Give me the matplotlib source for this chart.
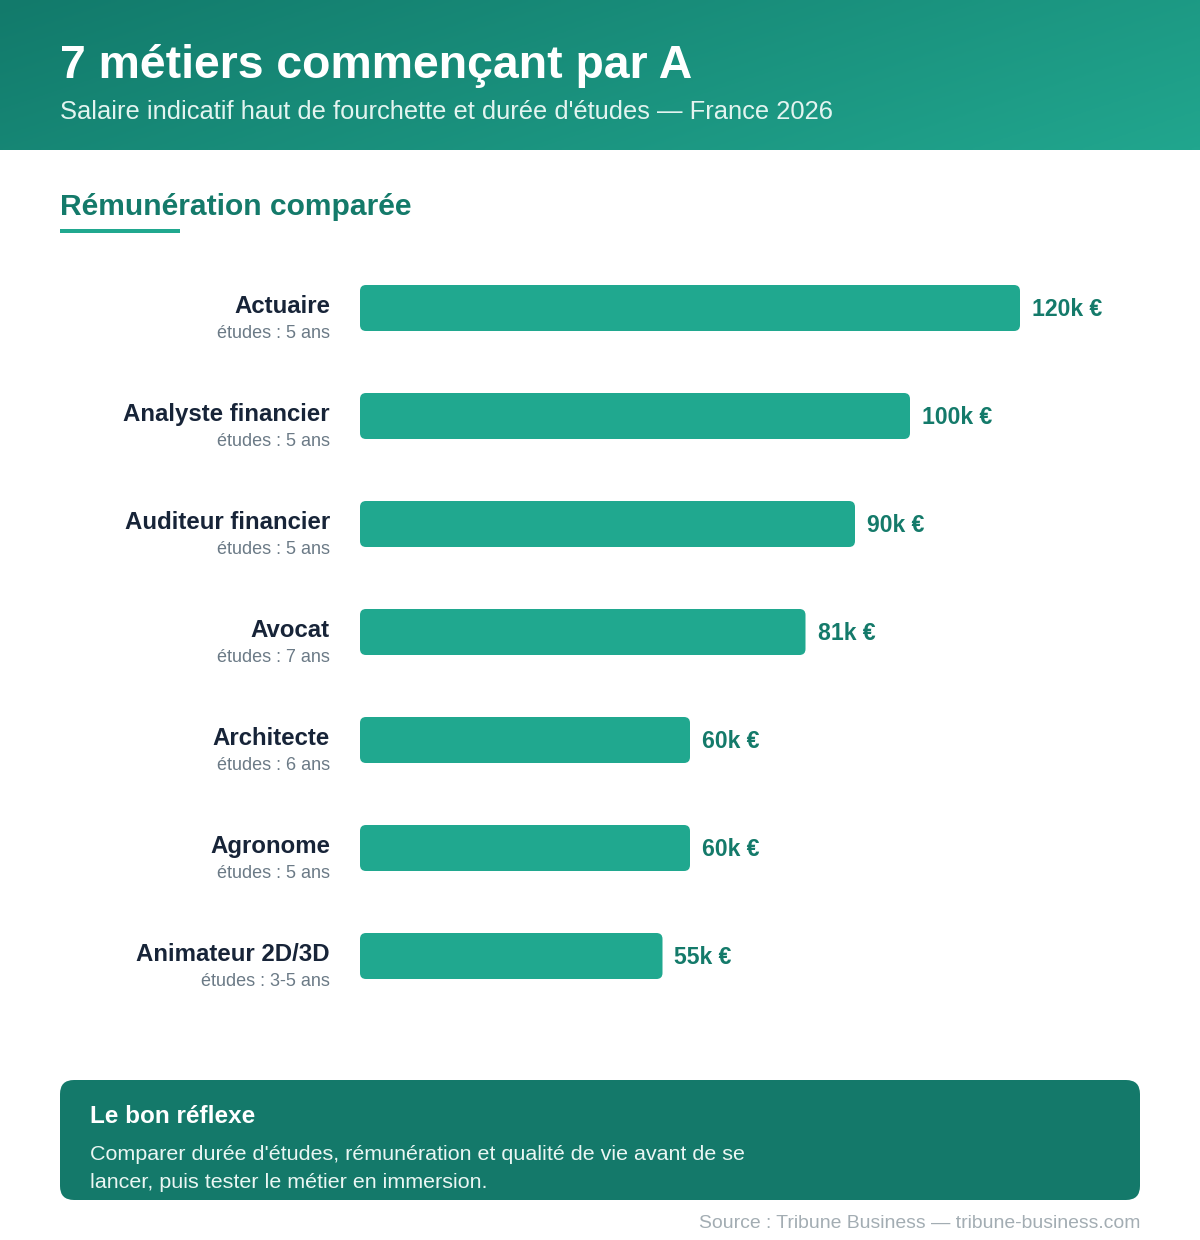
import matplotlib
matplotlib.use("Agg")
import matplotlib.pyplot as plt
import numpy as np
from matplotlib.patches import FancyBboxPatch, Rectangle
from matplotlib.colors import LinearSegmentedColormap

plt.rcParams['font.family'] = ['Liberation Sans', 'DejaVu Sans']

# ---- data ----
metiers = ["Actuaire", "Analyste financier", "Auditeur financier", "Avocat",
           "Architecte", "Agronome", "Animateur 2D/3D"]
salaires = [120, 100, 90, 81, 60, 60, 55]          # k€
etudes = ["5 ans", "5 ans", "5 ans", "7 ans", "6 ans", "5 ans", "3-5 ans"]

title = "7 métiers commençant par A"
subtitle = "Salaire indicatif haut de fourchette et durée d'études — France 2026"
section = "Rémunération comparée"
tip_title = "Le bon réflexe"
tip_lines = ["Comparer durée d'études, rémunération et qualité de vie avant de se",
             "lancer, puis tester le métier en immersion."]
source = "Source : Tribune Business — tribune-business.com"

# ---- style ----
W, H = 1200, 1240
BAR = "#20a88f"
DARK_GREEN = "#147a6a"
NAVY = "#172438"
GREY = "#6b7a86"

def pt(px):
    return px * 0.72

fig = plt.figure(figsize=(W / 100, H / 100), dpi=100)
fig.patch.set_facecolor("white")
bg = fig.add_axes([0, 0, 1, 1])
bg.set_xlim(0, W)
bg.set_ylim(H, 0)
bg.axis("off")

# header gradient
gx = np.linspace(0, 1200, 400)
gy = np.linspace(0, 150, 50)
X, Y = np.meshgrid(gx, gy)
T = (X + Y * 3) / (1200 + 150 * 3)
cmap = LinearSegmentedColormap.from_list("hdr", ["#127a6b", "#21a68e"])
bg.imshow(T, cmap=cmap, extent=[0, 1200, 150, 0], aspect="auto", zorder=0)
bg.set_xlim(0, W)
bg.set_ylim(H, 0)

bg.text(60, 78, title, color="white", fontsize=pt(46.4), fontweight="bold",
        va="baseline", ha="left")
bg.text(60, 119, subtitle, color="#e3f4f0", fontsize=pt(25.5), va="baseline",
        ha="left")

# section title + underline
bg.text(60, 215, section, color=DARK_GREEN, fontsize=pt(30), fontweight="bold",
        va="baseline", ha="left")
bg.add_patch(Rectangle((60, 229), 120, 4, color=BAR, lw=0))

# ---- bars ----
row = 108
top = 308 - row / 2
bottom = 308 + 6 * row + row / 2
ax = fig.add_axes([360 / W, 1 - bottom / H, 660 / W, (bottom - top) / H])
ax.set_xlim(0, 120)
ax.set_ylim(len(metiers) - 0.5, -0.5)
ax.axis("off")
ax.patch.set_alpha(0)

ypos = np.arange(len(metiers))
bh = 46 / row
bars = ax.barh(ypos, salaires, height=bh, color=BAR)
px_x = 660 / 120
px_y = row
r_px = 6
for b in bars:
    x0, y0, w, h = b.get_x(), b.get_y(), b.get_width(), b.get_height()
    b.remove()
    rs = r_px / px_x
    ax.add_patch(FancyBboxPatch((x0, y0), w, h,
                                boxstyle=f"round,pad=0,rounding_size={rs}",
                                mutation_aspect=(r_px / px_y) / rs,
                                facecolor=BAR, edgecolor="none"))

for i, (m, s, e) in enumerate(zip(metiers, salaires, etudes)):
    ax.annotate(m, xy=(0, i), xytext=(pt(-30), pt(-5)), textcoords="offset points",
                ha="right", va="baseline", fontsize=pt(24), fontweight="bold",
                color=NAVY, annotation_clip=False)
    ax.annotate(f"études : {e}", xy=(0, i), xytext=(pt(-30), pt(-30)),
                textcoords="offset points", ha="right", va="baseline",
                fontsize=pt(18), color=GREY, annotation_clip=False)
    ax.annotate(f"{s}k €", xy=(s, i), xytext=(pt(12), pt(-8)),
                textcoords="offset points", ha="left", va="baseline",
                fontsize=pt(23), fontweight="bold", color=DARK_GREEN,
                annotation_clip=False)

# ---- tip box ----
bg.add_patch(FancyBboxPatch((60, 1080), 1080, 120,
                            boxstyle="round,pad=0,rounding_size=14",
                            facecolor="#14796a", edgecolor="none"))
bg.text(90, 1123, tip_title, color="white", fontsize=pt(24.2), fontweight="bold",
        va="baseline", ha="left")
for k, line in enumerate(tip_lines):
    bg.text(90, 1160 + 28 * k, line, color="#eaf6f3", fontsize=pt(21.5),
            va="baseline", ha="left")

bg.text(1140, 1228, source, color="#a3adb3", fontsize=pt(19.4), va="baseline",
        ha="right")

fig.savefig("out.png", dpi=100, facecolor="white")
